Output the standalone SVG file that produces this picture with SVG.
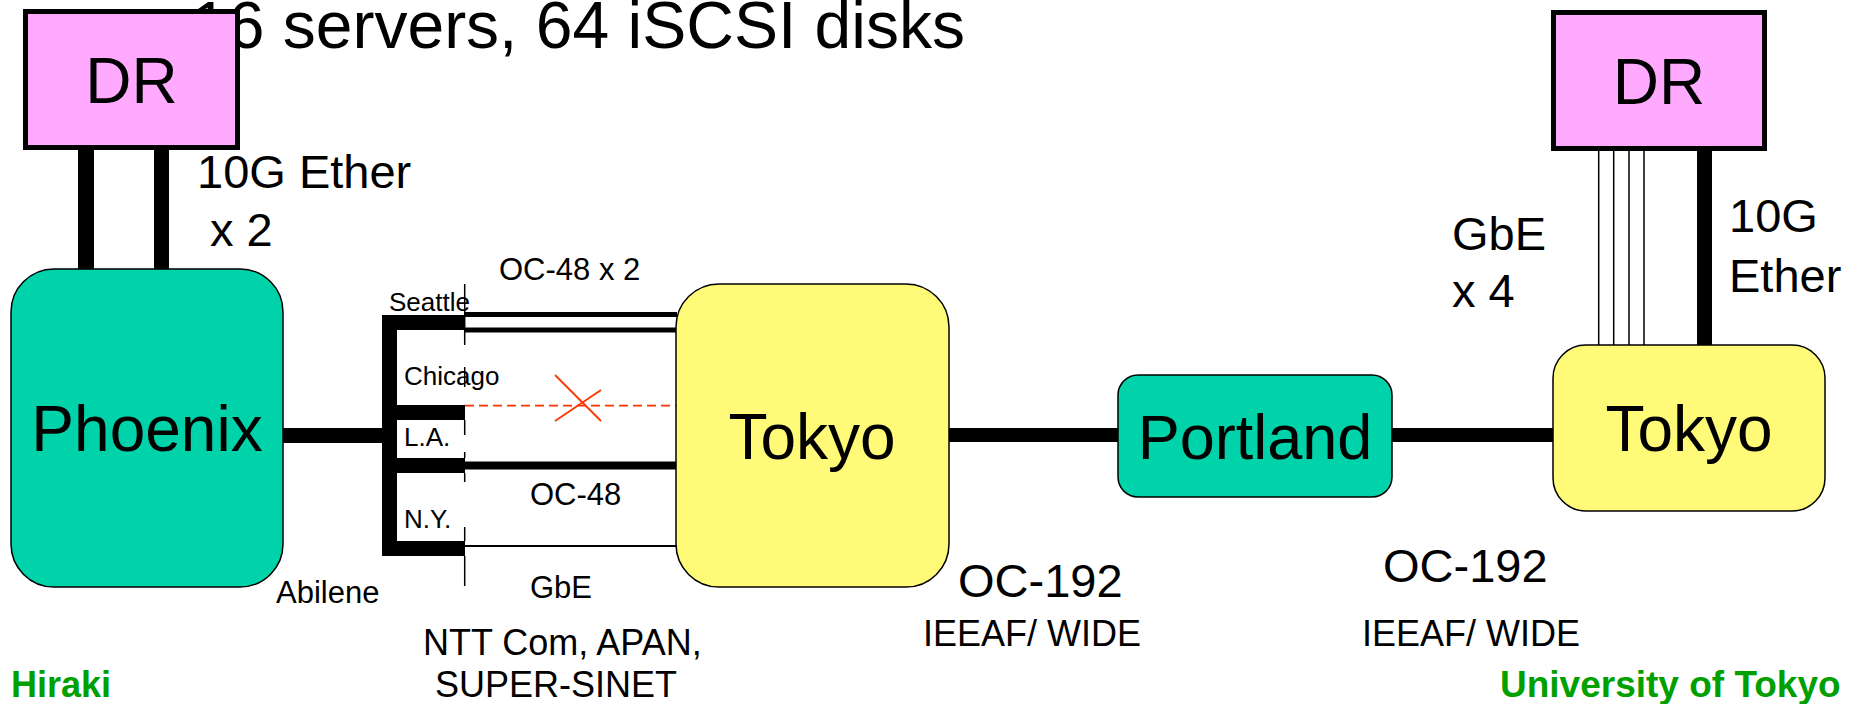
<svg xmlns="http://www.w3.org/2000/svg" width="1862" height="704" viewBox="0 0 1862 704">
<style>
text{font-family:"Liberation Sans",Arial,sans-serif;fill:#000}
.big{font-size:64px}
.mid{font-size:47px}
.sm{font-size:31px}
.xs{font-size:26px}
.grn{font-size:36px;font-weight:bold;fill:#00A000}
.dr{fill:#FFAAFF;stroke:#000;stroke-width:5}
.teal{fill:#00D2AA;stroke:#000;stroke-width:1.5}
.yel{fill:#FFFA78;stroke:#000;stroke-width:1.5}
.blk{fill:#000}
.ln{stroke:#000;fill:none}
</style>
<rect width="1862" height="704" fill="#fff"/>
<text x="191" y="48" style="font-size:66px">16 servers, 64 iSCSI disks</text>
<g id="connectors">
  <rect class="blk" x="78" y="150" width="16" height="120"/>
  <rect class="blk" x="154" y="150" width="15" height="120"/>
  <rect class="blk" x="283" y="428" width="100" height="15"/>
  <rect class="blk" x="382" y="315" width="15" height="241"/>
  <rect class="blk" x="382" y="315" width="83" height="15"/>
  <rect class="blk" x="382" y="405" width="83" height="15"/>
  <rect class="blk" x="382" y="458" width="83" height="15"/>
  <rect class="blk" x="382" y="541" width="83" height="15"/>
  <path class="ln" stroke-width="1.5" d="M464.7 284V345M464.7 367V387M464.7 420V435M464.7 452V458M464.7 473V482M464.7 527V541M464.7 556V586"/>
  <line class="ln" x1="465" y1="314.5" x2="677" y2="314.5" stroke-width="5"/>
  <line class="ln" x1="465" y1="330" x2="677" y2="330" stroke-width="5"/>
  <line x1="465" y1="405.7" x2="677" y2="405.7" stroke="#FF3300" stroke-width="1.8" stroke-dasharray="9,5"/>
  <line x1="555" y1="375" x2="601" y2="421" stroke="#FF3300" stroke-width="1.8"/>
  <line x1="555" y1="421" x2="601" y2="390" stroke="#FF3300" stroke-width="1.8"/>
  <line class="ln" x1="465" y1="465.5" x2="677" y2="465.5" stroke-width="8"/>
  <line class="ln" x1="465" y1="546" x2="677" y2="546" stroke-width="2"/>
  <rect class="blk" x="949" y="428" width="170" height="14"/>
  <rect class="blk" x="1391" y="428" width="163" height="14"/>
  <path class="ln" stroke-width="1.5" d="M1598.7 150V346M1613.7 150V346M1629 150V346M1644 150V346"/>
  <rect class="blk" x="1697" y="150" width="15" height="196"/>
</g>
<g id="dr-left">
  <rect class="dr" x="25.5" y="11.5" width="212" height="136"/>
  <text class="big" x="131.5" y="103" text-anchor="middle">DR</text>
</g>
<g id="phoenix">
  <rect class="teal" x="11" y="269" width="272" height="318" rx="43" ry="43"/>
  <text class="big" x="147" y="451" text-anchor="middle">Phoenix</text>
</g>
<g id="tokyo1">
  <rect class="yel" x="676" y="284" width="273" height="303" rx="43" ry="43"/>
  <text class="big" x="812" y="459" text-anchor="middle">Tokyo</text>
</g>
<g id="portland">
  <rect class="teal" x="1118" y="375" width="274" height="122" rx="20" ry="20"/>
  <text class="big" x="1255" y="459" text-anchor="middle" style="font-size:63px">Portland</text>
</g>
<g id="tokyo2">
  <rect class="yel" x="1553" y="345" width="272" height="166" rx="33" ry="33"/>
  <text class="big" x="1689" y="451" text-anchor="middle">Tokyo</text>
</g>
<g id="dr-right">
  <rect class="dr" x="1553.5" y="12.5" width="211" height="136"/>
  <text class="big" x="1659" y="104" text-anchor="middle">DR</text>
</g>
<g id="labels">
  <text class="mid" x="197" y="188">10G Ether</text>
  <text class="mid" x="210" y="246">x 2</text>
  <text class="sm" x="499" y="280">OC-48 x 2</text>
  <text class="xs" x="389" y="311">Seattle</text>
  <text class="xs" x="404" y="385">Chicago</text>
  <text class="xs" x="404" y="446">L.A.</text>
  <text class="xs" x="404" y="528">N.Y.</text>
  <text class="sm" x="530" y="505">OC-48</text>
  <text class="sm" x="530" y="598">GbE</text>
  <text class="sm" x="276" y="603">Abilene</text>
  <text x="423" y="655" style="font-size:36px">NTT Com, APAN,</text>
  <text x="435" y="697" style="font-size:36px">SUPER-SINET</text>
  <text class="mid" x="958" y="597">OC-192</text>
  <text x="923" y="646" style="font-size:36px">IEEAF/ WIDE</text>
  <text class="mid" x="1383" y="582">OC-192</text>
  <text x="1362" y="646" style="font-size:36px">IEEAF/ WIDE</text>
  <text class="mid" x="1452" y="250">GbE</text>
  <text class="mid" x="1452" y="307">x 4</text>
  <text class="mid" x="1729" y="232">10G</text>
  <text class="mid" x="1729" y="292">Ether</text>
  <text class="grn" x="11" y="697">Hiraki</text>
  <text class="grn" x="1500" y="697" style="font-size:37px">University of Tokyo</text>
</g>
</svg>
